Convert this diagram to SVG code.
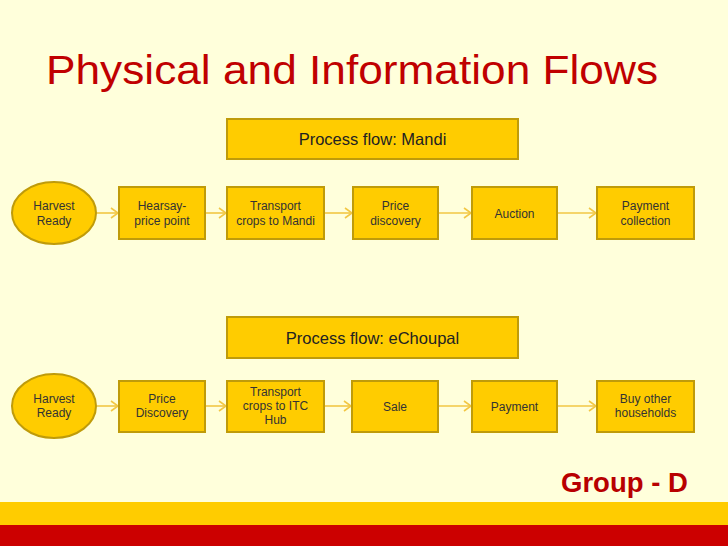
<svg xmlns="http://www.w3.org/2000/svg" width="728" height="546" viewBox="0 0 728 546">
<defs>
<style>
.node{fill:#FFCC00;stroke:#BF9B0A;stroke-width:2}
.t{font-family:"Liberation Sans",Arial,sans-serif;font-size:12px;fill:#333;text-anchor:middle}
.h{font-family:"Liberation Sans",Arial,sans-serif;font-size:16.5px;fill:#222;text-anchor:middle}
.c{stroke:#F2C744;stroke-width:1.6;fill:none}
</style>
<marker id="ah" markerWidth="10" markerHeight="12" refX="9" refY="6" orient="auto" markerUnits="userSpaceOnUse">
<path d="M2,1 L9,6 L2,11" fill="none" stroke="#F2C744" stroke-width="1.6"/>
</marker>
</defs>
<rect x="0" y="0" width="728" height="546" fill="#FFFFDB"/>
<rect x="0" y="502" width="728" height="23" fill="#FFCC00"/>
<rect x="0" y="525" width="728" height="21" fill="#CC0000"/>
<text x="46" y="84" font-family="Liberation Sans,Arial,sans-serif" font-size="41" fill="#C00000" textLength="612" lengthAdjust="spacingAndGlyphs">Physical and Information Flows</text>
<text x="561" y="492" font-family="Liberation Sans,Arial,sans-serif" font-size="27.5" font-weight="bold" fill="#B80000">Group - D</text>

<g id="connectors">
<line class="c" x1="97" y1="213" x2="118" y2="213" marker-end="url(#ah)"/>
<line class="c" x1="205" y1="213" x2="226" y2="213" marker-end="url(#ah)"/>
<line class="c" x1="324" y1="213" x2="352" y2="213" marker-end="url(#ah)"/>
<line class="c" x1="438" y1="213" x2="471" y2="213" marker-end="url(#ah)"/>
<line class="c" x1="557" y1="213" x2="596" y2="213" marker-end="url(#ah)"/>
<line class="c" x1="97" y1="406" x2="118" y2="406" marker-end="url(#ah)"/>
<line class="c" x1="205" y1="406" x2="226" y2="406" marker-end="url(#ah)"/>
<line class="c" x1="324" y1="406" x2="351" y2="406" marker-end="url(#ah)"/>
<line class="c" x1="438" y1="406" x2="471" y2="406" marker-end="url(#ah)"/>
<line class="c" x1="557" y1="406" x2="596" y2="406" marker-end="url(#ah)"/>
</g>

<g id="hdr-mandi"><rect class="node" x="227" y="119" width="291" height="40"/><text class="h" x="372.5" y="145">Process flow: Mandi</text></g>
<g id="hdr-echoupal"><rect class="node" x="227" y="317" width="291" height="41"/><text class="h" x="372.5" y="344">Process flow: eChoupal</text></g>

<g id="m1"><ellipse class="node" cx="54" cy="213" rx="42" ry="31"/><text class="t" x="54" y="209.5">Harvest</text><text class="t" x="54" y="224.5">Ready</text></g>
<g id="m2"><rect class="node" x="119" y="187" width="86" height="52"/><text class="t" x="162" y="209.5">Hearsay-</text><text class="t" x="162" y="224.5">price point</text></g>
<g id="m3"><rect class="node" x="227" y="187" width="97" height="52"/><text class="t" x="275.5" y="209.5">Transport</text><text class="t" x="275.5" y="224.5">crops to Mandi</text></g>
<g id="m4"><rect class="node" x="353" y="187" width="85" height="52"/><text class="t" x="395.5" y="209.5">Price</text><text class="t" x="395.5" y="224.5">discovery</text></g>
<g id="m5"><rect class="node" x="472" y="187" width="85" height="52"/><text class="t" x="514.5" y="217.5">Auction</text></g>
<g id="m6"><rect class="node" x="597" y="187" width="97" height="52"/><text class="t" x="645.5" y="209.5">Payment</text><text class="t" x="645.5" y="224.5">collection</text></g>

<g id="e1"><ellipse class="node" cx="54" cy="406" rx="42" ry="32"/><text class="t" x="54" y="403">Harvest</text><text class="t" x="54" y="417">Ready</text></g>
<g id="e2"><rect class="node" x="119" y="381" width="86" height="51"/><text class="t" x="162" y="403">Price</text><text class="t" x="162" y="417">Discovery</text></g>
<g id="e3"><rect class="node" x="227" y="381" width="97" height="51"/><text class="t" x="275.5" y="396">Transport</text><text class="t" x="275.5" y="410">crops to ITC</text><text class="t" x="275.5" y="424">Hub</text></g>
<g id="e4"><rect class="node" x="352" y="381" width="86" height="51"/><text class="t" x="395" y="410.5">Sale</text></g>
<g id="e5"><rect class="node" x="472" y="381" width="85" height="51"/><text class="t" x="514.5" y="410.5">Payment</text></g>
<g id="e6"><rect class="node" x="597" y="381" width="97" height="51"/><text class="t" x="645.5" y="403">Buy other</text><text class="t" x="645.5" y="417">households</text></g>
</svg>
